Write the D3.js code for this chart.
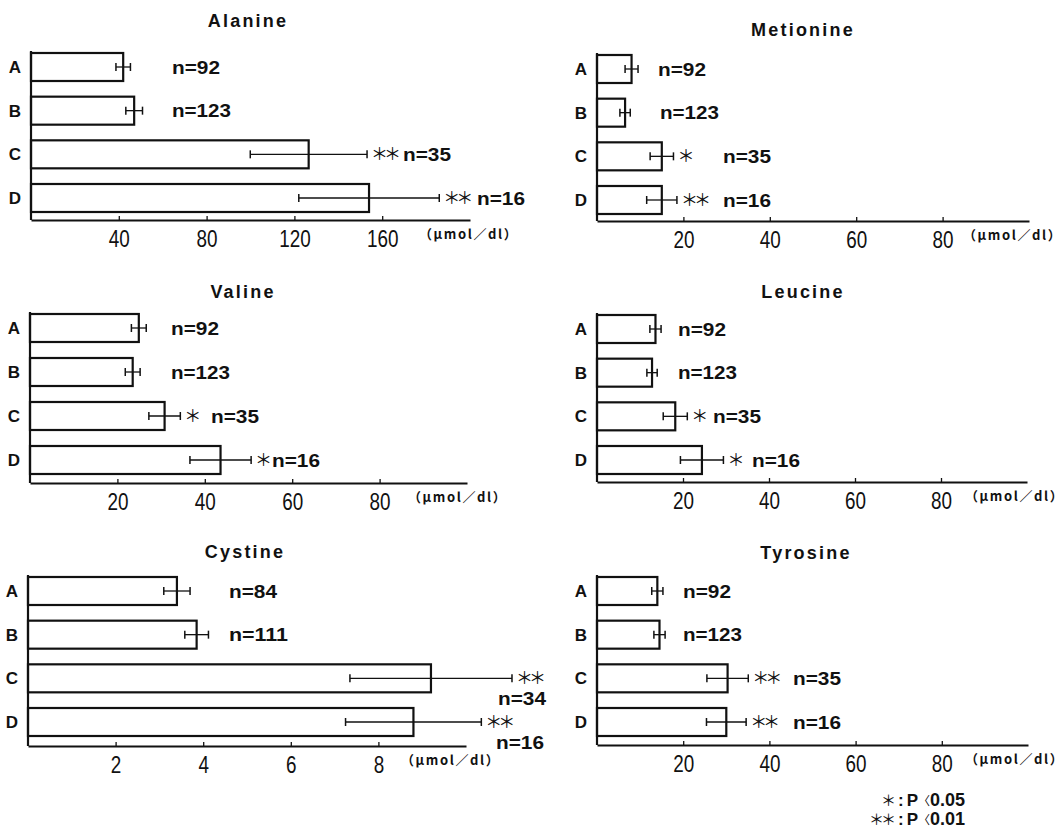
<!DOCTYPE html>
<html>
<head>
<meta charset="utf-8">
<script src="https://cdn.jsdelivr.net/npm/d3@7"></script>
<style>
  body { margin: 0; background: #fff; }
  .title { font-family: "Liberation Sans", Arial, sans-serif; font-weight: bold; font-size: 18px; letter-spacing: 2.2px; fill: #111; }
  .group-label { font-family: "Liberation Sans", Arial, sans-serif; font-weight: bold; font-size: 17px; fill: #111; }
  .n-label { font-family: "Liberation Sans", Arial, sans-serif; font-weight: bold; font-size: 18px; fill: #111; }
  .star { font-family: "Noto Sans CJK JP", sans-serif; font-size: 17px; letter-spacing: -4px; fill: #111; }
  .unit { font-family: "Noto Sans CJK JP", sans-serif; font-weight: bold; font-size: 13px; letter-spacing: 1.6px; fill: #111; }
  .legend { font-family: "Liberation Sans", Arial, sans-serif; font-weight: bold; font-size: 17px; fill: #111; }
  .tick-label { font-family: "Liberation Sans", Arial, sans-serif; font-size: 23px; fill: #111; }
</style>
</head>
<body>
<div id="chart"></div>
<script>
// groups and amino acids
const groups = ["A", "B", "C", "D"];
const acids = ["Alanine", "Metionine", "Valine", "Leucine", "Cystine", "Tyrosine"];

// mean values (μmol/dl)
const alanineMean = [42, 47, 126.5, 154];
const metionineMean = [8, 6.5, 15, 15];
const valineMean = [24.9, 23.5, 30.8, 43.6];
const leucineMean = [13.6, 12.8, 18.2, 24.4];
const cystineMean = [3.4, 3.85, 9.2, 8.8];
const tyrosineMean = [14, 14.5, 30.3, 30];

// error bar half widths
const alanineErr = [3.3, 3.8, 26.6, 32];
const metionineErr = [1.5, 1.2, 2.7, 3.5];
const valineErr = [1.7, 1.7, 3.6, 7];
const leucineErr = [1.3, 1.2, 2.8, 5];
const cystineErr = [0.3, 0.27, 1.85, 1.55];
const tyrosineErr = [1.3, 1.3, 4.8, 4.6];

// sample sizes
const nMain = [92, 123, 35, 16];
const nCystine = [84, 111, 34, 16];

// significance marks
const alanineSig = ["", "", "**", "**"];
const metionineSig = ["", "", "*", "**"];
const valineSig = ["", "", "*", "*"];
const leucineSig = ["", "", "*", "*"];
const cystineSig = ["", "", "**", "**"];
const tyrosineSig = ["", "", "**", "**"];

// axis ticks
const ticksAlanine = [40, 80, 120, 160];
const ticksWide = [20, 40, 60, 80];
const ticksCystine = [2, 4, 6, 8];

// legend
const legendMarks = ["*", "**"];
const legendP = ["0.05", "0.01"];

const panels = [
    { name: acids[0], mean: alanineMean, err: alanineErr, n: nMain, sig: alanineSig, ticks: ticksAlanine, max: 200 },
    { name: acids[1], mean: metionineMean, err: metionineErr, n: nMain, sig: metionineSig, ticks: ticksWide, max: 100 },
    { name: acids[2], mean: valineMean, err: valineErr, n: nMain, sig: valineSig, ticks: ticksWide, max: 100 },
    { name: acids[3], mean: leucineMean, err: leucineErr, n: nMain, sig: leucineSig, ticks: ticksWide, max: 100 },
    { name: acids[4], mean: cystineMean, err: cystineErr, n: nCystine, sig: cystineSig, ticks: ticksCystine, max: 10 },
    { name: acids[5], mean: tyrosineMean, err: tyrosineErr, n: nMain, sig: tyrosineSig, ticks: ticksWide, max: 100 }
];

// where each panel sits on the page
const layout = [
    { x0: 31, x1: 470, axisY: 220, yA: 67, yD: 198, titleX: 248, titleY: 20, nX: [172, 172, 403, 477], nBelow: false, unitX: 419 },
    { x0: 597, x1: 1029, axisY: 221, yA: 69, yD: 200, titleX: 803, titleY: 29, nX: [658, 660, 723, 723], nBelow: false, unitX: 963 },
    { x0: 30, x1: 467, axisY: 483, yA: 328, yD: 460, titleX: 243, titleY: 291, nX: [171, 171, 211, 272], nBelow: false, unitX: 408 },
    { x0: 597, x1: 1027, axisY: 482, yA: 329, yD: 460, titleX: 803, titleY: 291, nX: [678, 678, 713, 752], nBelow: false, unitX: 965 },
    { x0: 28, x1: 466, axisY: 746, yA: 591, yD: 722, titleX: 245, titleY: 551, nX: [229, 229, 498, 496], nBelow: true, unitX: 401 },
    { x0: 597, x1: 1028, axisY: 745, yA: 591, yD: 722, titleX: 806, titleY: 552, nX: [683, 683, 793, 793], nBelow: false, unitX: 965 }
];

const svg = d3.select("#chart").append("svg")
    .attr("width", 1063)
    .attr("height", 829)
    .style("background", "#fff");

const barH = 28;
const ink = "#111";
const star = s => s.replace(/\*/g, "＊");

panels.forEach(function(p, i) {
    const L = layout[i];
    const g = svg.append("g");

    const x = d3.scaleLinear().domain([0, p.max]).range([L.x0, L.x1]);
    const y = d3.scalePoint().domain(groups).range([L.yA, L.yD]);

    // title
    g.append("text")
        .attr("class", "title")
        .attr("x", L.titleX)
        .attr("y", L.titleY + 6.5)
        .attr("text-anchor", "middle")
        .text(p.name);

    const rows = groups.map((k, j) => ({ k: k, mean: p.mean[j], err: p.err[j], n: p.n[j], sig: p.sig[j], j: j }));

    // bars
    g.selectAll("rect.bar")
        .data(rows)
        .join("rect")
        .attr("class", "bar")
        .attr("x", x(0))
        .attr("y", d => y(d.k) - barH / 2)
        .attr("width", d => x(d.mean) - x(0))
        .attr("height", barH)
        .attr("fill", "#fff")
        .attr("stroke", ink)
        .attr("stroke-width", 2.2);

    // error bars
    const eb = g.selectAll("g.err")
        .data(rows)
        .join("g")
        .attr("class", "err");
    eb.append("line")
        .attr("x1", d => x(d.mean - d.err))
        .attr("x2", d => x(d.mean + d.err))
        .attr("y1", d => y(d.k))
        .attr("y2", d => y(d.k))
        .attr("stroke", ink)
        .attr("stroke-width", 1.3);
    [-1, 1].forEach(function(s) {
        eb.append("line")
            .attr("x1", d => x(d.mean + s * d.err))
            .attr("x2", d => x(d.mean + s * d.err))
            .attr("y1", d => y(d.k) - 4)
            .attr("y2", d => y(d.k) + 4)
            .attr("stroke", ink)
            .attr("stroke-width", 1.5);
    });

    // significance stars
    g.selectAll("text.star")
        .data(rows.filter(d => d.sig))
        .join("text")
        .attr("class", "star")
        .attr("x", d => x(d.mean + d.err) + 4)
        .attr("y", d => y(d.k) + 6)
        .text(d => star(d.sig));

    // n labels, squeezed to the narrow type of the original
    g.selectAll("text.n-label")
        .data(rows)
        .join("text")
        .attr("class", "n-label")
        .attr("x", d => L.nX[d.j])
        .attr("y", d => y(d.k) + 6.5 + (L.nBelow && d.sig ? 20 : 0))
        .attr("textLength", d => 26 + 11 * String(d.n).length)
        .attr("lengthAdjust", "spacingAndGlyphs")
        .text(d => "n=" + d.n);

    // x axis with short upward ticks
    const ax = g.append("g")
        .attr("transform", `translate(0,${L.axisY})`)
        .call(d3.axisBottom(x)
            .tickValues(p.ticks)
            .tickSizeInner(-4)
            .tickSizeOuter(0)
            .tickPadding(11)
            .tickFormat(d3.format("d")));
    ax.attr("font-family", null).attr("font-size", null);
    ax.select(".domain").attr("stroke", ink).attr("stroke-width", 2.2);
    ax.selectAll(".tick line").attr("stroke", ink).attr("stroke-width", 1.3);
    ax.selectAll(".tick text")
        .attr("class", "tick-label")
        .attr("fill", ink)
        .attr("textLength", d => 10.5 * String(d).length)
        .attr("lengthAdjust", "spacingAndGlyphs");

    // unit
    g.append("text")
        .attr("class", "unit")
        .attr("x", L.unitX)
        .attr("y", L.axisY + 19)
        .text("（μmol／dl）");

    // y axis line
    g.append("line")
        .attr("x1", x(0)).attr("x2", x(0))
        .attr("y1", L.yA - 16).attr("y2", L.axisY)
        .attr("stroke", ink)
        .attr("stroke-width", 2.2);

    // group labels
    g.selectAll("text.group-label")
        .data(rows)
        .join("text")
        .attr("class", "group-label")
        .attr("x", x(0) - 16)
        .attr("y", d => y(d.k) + 6)
        .attr("text-anchor", "middle")
        .text(d => d.k);
});

// significance legend
const lg = svg.append("g");
legendMarks.forEach(function(m, i) {
    const yy = 806 + i * 19;
    lg.append("text")
        .attr("class", "star")
        .attr("x", 893)
        .attr("y", yy)
        .attr("text-anchor", "end")
        .style("font-size", "15px")
        .style("letter-spacing", "-3px")
        .text(star(m));
    const t = lg.append("text")
        .attr("class", "legend")
        .attr("x", 898)
        .attr("y", yy);
    t.append("tspan").text(":");
    t.append("tspan").attr("dx", 3).text("P");
    t.append("tspan")
        .style("font-family", "'Noto Sans CJK JP', sans-serif")
        .style("font-weight", "normal")
        .style("font-size", "12px")
        .text("〈");
    t.append("tspan")
        .style("font-size", "18px")
        .text(legendP[i]);
});
</script>
</body>
</html>
